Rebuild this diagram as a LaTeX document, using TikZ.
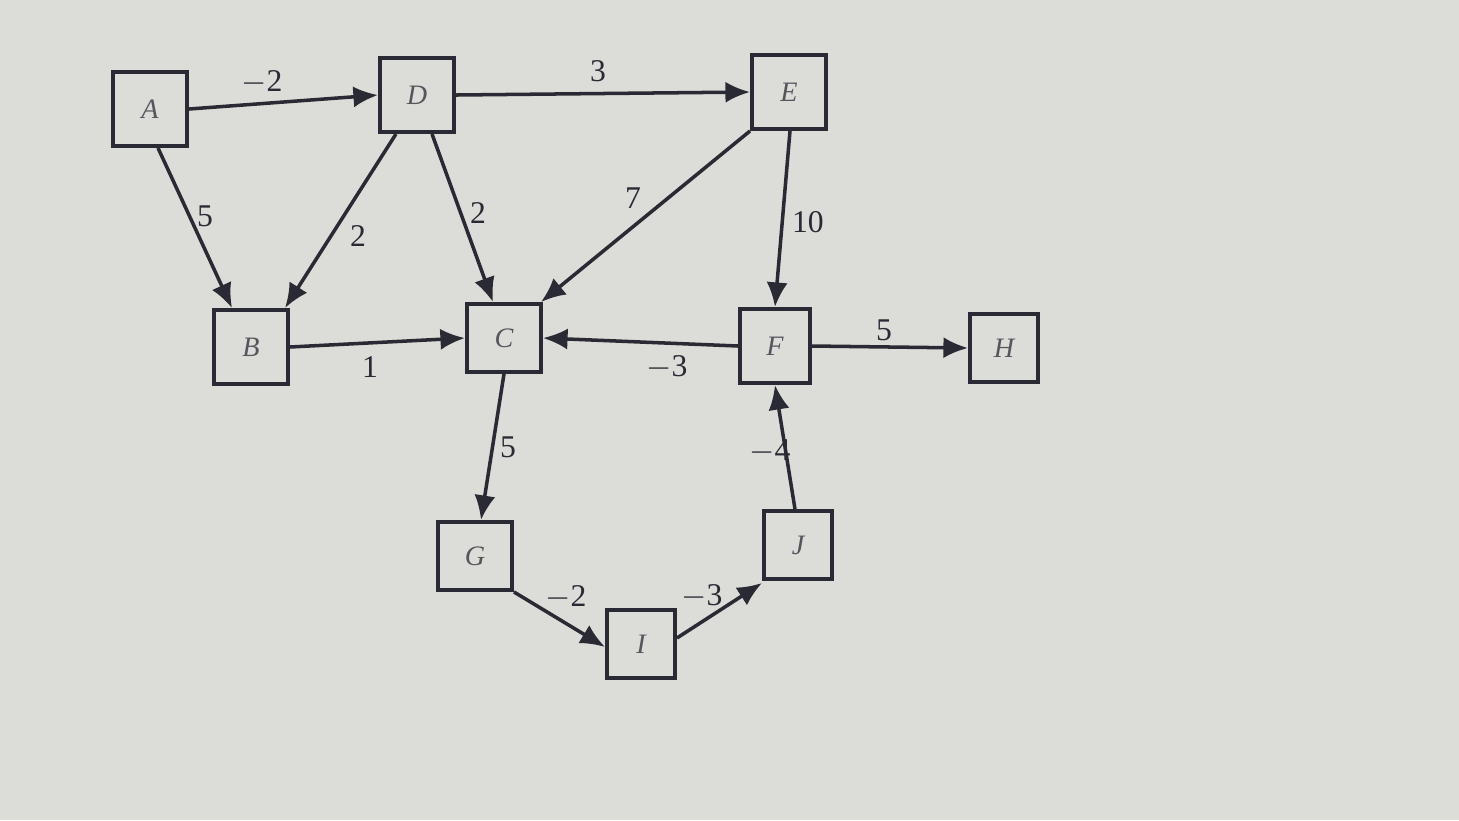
\documentclass[tikz,border=0pt]{standalone}
\usepackage{fontspec}
\setmainfont{Liberation Serif}
\usetikzlibrary{arrows.meta,calc}
\definecolor{bg}{HTML}{DCDDD8}
\definecolor{ink}{HTML}{2A2A35}
\begin{document}
\begin{tikzpicture}[x=0.01cm,y=-0.01cm,
  vbox/.style={draw=ink,line width=1.1pt,minimum width=0.74cm,minimum height=0.74cm,inner sep=0pt,font=\itshape\fontsize{8}{9}\selectfont,text=ink!80},
  edge/.style={draw=ink,line width=1pt,-{Latex[length=7pt,width=6pt]}},
  wt/.style={font=\fontsize{9}{10}\selectfont,text=ink,inner sep=1pt}]
\fill[bg] (0,0) rectangle (1459,820);
\useasboundingbox (0,0) rectangle (1459,820);
\node[vbox] (A) at (150,109) {A};
\node[vbox] (D) at (417,95) {D};
\node[vbox] (E) at (789,92) {E};
\node[vbox] (B) at (251,347) {B};
\node[vbox,minimum height=0.68cm] (C) at (504,338) {C};
\node[vbox,minimum width=0.70cm] (F) at (775,346) {F};
\node[vbox,minimum width=0.68cm,minimum height=0.68cm] (H) at (1004,348) {H};
\node[vbox,minimum height=0.68cm] (G) at (475,556) {G};
\node[vbox,minimum width=0.68cm,minimum height=0.68cm] (I) at (641,644) {I};
\node[vbox,minimum width=0.68cm,minimum height=0.68cm] (J) at (798,545) {J};
% edges
\draw[edge] (A.east) -- (D.west);
\draw[edge] (D.east) -- (E.west);
\draw[edge] ($(A.south)+(8,0)$) -- ($(B.north)+(-19,0)$);
\draw[edge] ($(D.south)+(-21,0)$) -- ($(B.north)+(34,0)$);
\draw[edge] ($(D.south)+(15,0)$) -- ($(C.north)+(-11,0)$);
\draw[edge] (E.south west) -- ($(C.north east)+(-2,0)$);
\draw[edge] ($(E.south)+(1,0)$) -- (F.north);
\draw[edge] (B.east) -- (C.west);
\draw[edge] (F.west) -- (C.east);
\draw[edge] (F.east) -- (H.west);
\draw[edge] (C.south) -- ($(G.north)+(6,0)$);
\draw[edge] ($(J.north)+(-3,0)$) -- (F.south);
\draw[edge] (G.south east) -- ($(I.west)+(0,3)$);
\draw[edge] ($(I.east)+(0,-6)$) -- ($(J.south west)+(0,2)$);
% weights
\node[wt] (w1) at (262,82) {$-$2};
\node[wt] (w2) at (598,71) {3};
\node[wt] (w3) at (205,216) {5};
\node[wt] (w4) at (358,236) {2};
\node[wt] (w5) at (478,213) {2};
\node[wt] (w6) at (633,198) {7};
\node[wt] (w7) at (808,222) {10};
\node[wt] (w8) at (370,367) {1};
\node[wt] (w9) at (667,367) {$-$3};
\node[wt] (w10) at (884,330) {5};
\node[wt] (w11) at (508,447) {5};
\node[wt] (w12) at (770,452) {$-$4};
\node[wt] (w13) at (566,597) {$-$2};
\node[wt] (w14) at (702,596) {$-$3};
\end{tikzpicture}
\end{document}
